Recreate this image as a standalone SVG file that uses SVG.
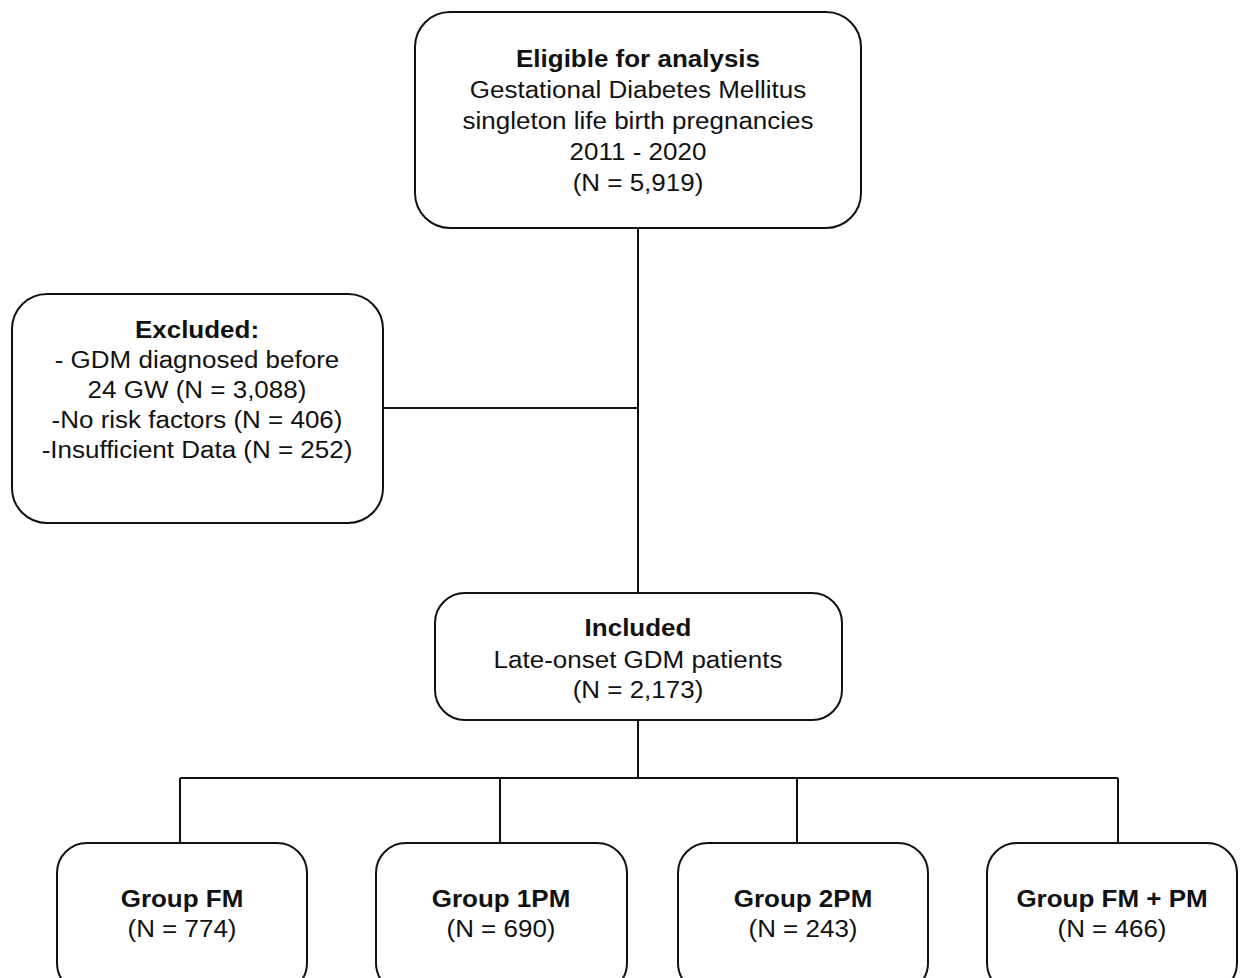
<svg xmlns="http://www.w3.org/2000/svg" width="1241" height="978" viewBox="0 0 1241 978">
<style>
.box{fill:#fff;stroke:#111;stroke-width:2}
.ln{fill:none;stroke:#111;stroke-width:2}
text{font-family:"Liberation Sans",Arial,sans-serif;font-size:23px;fill:#111;text-anchor:middle}
.b{font-weight:bold}
</style>
<rect width="1241" height="978" fill="#fff"/>
<g id="connectors">
<path class="ln" d="M638 228V593"/>
<path class="ln" d="M383 408H638"/>
<path class="ln" d="M638 720V778"/>
<path class="ln" d="M180 778H1118"/>
<path class="ln" d="M180 778V843M500 778V843M797 778V843M1118 778V843"/>
</g>
<g id="eligible">
<rect class="box" x="415" y="12" width="446" height="216" rx="35"/>
<g transform="translate(638,0) scale(1.13,1)">
<text class="b" x="0" y="67">Eligible for analysis</text>
<text x="0" y="98">Gestational Diabetes Mellitus</text>
<text x="0" y="129">singleton life birth pregnancies</text>
<text x="0" y="160">2011 - 2020</text>
<text x="0" y="191">(N = 5,919)</text>
</g>
</g>
<g id="excluded">
<rect class="box" x="12" y="294" width="371" height="229" rx="35"/>
<g transform="translate(197,0) scale(1.13,1)">
<text class="b" x="0" y="338">Excluded:</text>
<text x="0" y="368">- GDM diagnosed before</text>
<text x="0" y="398">24 GW (N = 3,088)</text>
<text x="0" y="428">-No risk factors (N = 406)</text>
<text x="0" y="458">-Insufficient Data (N = 252)</text>
</g>
</g>
<g id="included">
<rect class="box" x="435" y="593" width="407" height="127" rx="30"/>
<g transform="translate(638,0) scale(1.13,1)">
<text class="b" x="0" y="636">Included</text>
<text x="0" y="668">Late-onset GDM patients</text>
<text x="0" y="698">(N = 2,173)</text>
</g>
</g>
<g id="groupFM">
<rect class="box" x="57" y="843" width="250" height="150" rx="30"/>
<g transform="translate(182,0) scale(1.13,1)">
<text class="b" x="0" y="907">Group FM</text>
<text x="0" y="937">(N = 774)</text>
</g>
</g>
<g id="group1PM">
<rect class="box" x="376" y="843" width="251" height="150" rx="30"/>
<g transform="translate(501,0) scale(1.13,1)">
<text class="b" x="0" y="907">Group 1PM</text>
<text x="0" y="937">(N = 690)</text>
</g>
</g>
<g id="group2PM">
<rect class="box" x="678" y="843" width="250" height="150" rx="30"/>
<g transform="translate(803,0) scale(1.13,1)">
<text class="b" x="0" y="907">Group 2PM</text>
<text x="0" y="937">(N = 243)</text>
</g>
</g>
<g id="groupFMPM">
<rect class="box" x="987" y="843" width="250" height="150" rx="30"/>
<g transform="translate(1112,0) scale(1.13,1)">
<text class="b" x="0" y="907">Group FM + PM</text>
<text x="0" y="937">(N = 466)</text>
</g>
</g>
</svg>
